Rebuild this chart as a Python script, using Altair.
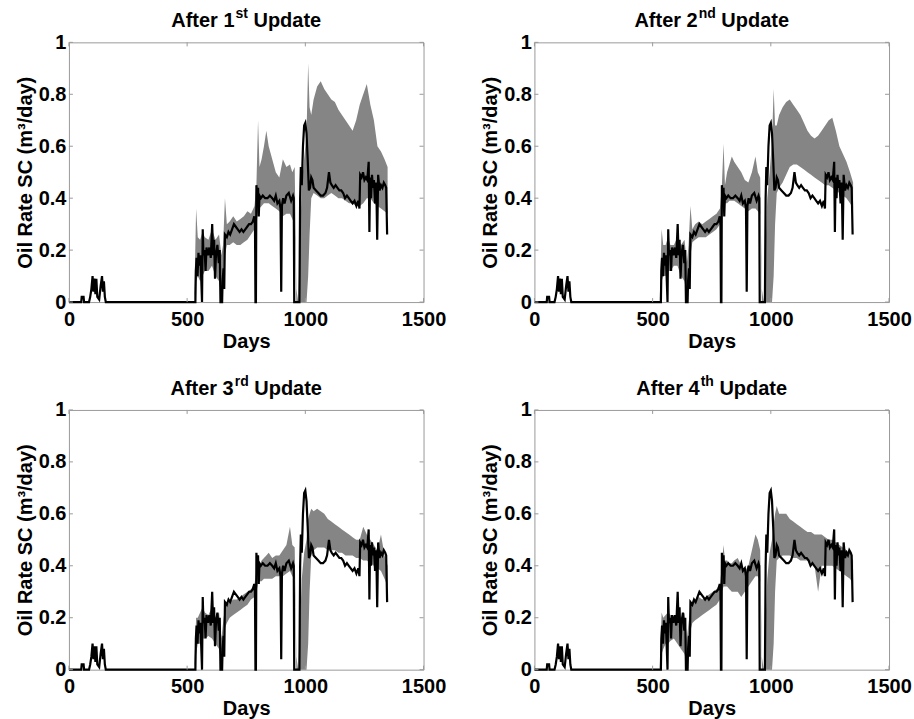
import altair as alt
import pandas as pd

# ---------------- data ----------------
title_main = ["After 1", "After 2", "After 3", "After 4"]
title_sup = ["st", "nd", "rd", "th"]
title_tail = "Update"
x_ticks = [0, 500, 1000, 1500]
y_ticks = [0, 0.2, 0.4, 0.6, 0.8, 1]

# observed oil rate (black line)
obs_days = [0, 52, 54, 62, 64, 85, 90, 95, 100, 104, 108, 112, 116, 120, 128, 134, 140, 144, 148, 152, 156,
            535, 537, 540, 544, 548, 552, 556, 560, 563, 566, 569, 574, 578, 582, 588, 594, 600, 606, 610,
            614, 618, 622, 628, 634, 638, 641, 648, 650, 654, 657, 660, 668, 675, 682, 690, 698, 706, 714,
            722, 730, 738, 746, 754, 762, 770, 778, 784, 787, 789, 791, 793, 797, 800, 803, 806, 812, 820,
            830, 840, 850, 860, 868, 875, 882, 890, 895, 898, 901, 906, 912, 920, 930, 940, 948, 951, 953,
            975, 978, 981, 985, 990, 995, 1000, 1005, 1010, 1015, 1020, 1025, 1030, 1035, 1045, 1055, 1065,
            1075, 1085, 1092, 1100, 1106, 1112, 1120, 1128, 1136, 1144, 1152, 1160, 1168, 1176, 1184, 1192,
            1200, 1208, 1216, 1224, 1229, 1232, 1238, 1244, 1250, 1256, 1262, 1268, 1271, 1274, 1278, 1282,
            1286, 1290, 1295, 1300, 1304, 1308, 1314, 1320, 1326, 1332, 1338, 1342, 1346]
obs_rate = [0, 0, 0.02, 0.02, 0, 0, 0.02, 0.05, 0.10, 0.04, 0.09, 0.03, 0.09, 0.02, 0.01, 0.06, 0.10, 0.04, 0.08, 0.02, 0,
            0, 0.12, 0.17, 0.10, 0.19, 0.14, 0.18, 0.08, 0, 0.28, 0.18, 0.20, 0.12, 0.21, 0.18, 0.21, 0.17, 0.30, 0.18,
            0.24, 0.09, 0.18, 0.22, 0.15, 0.20, 0, 0, 0.08, 0.13, 0.05, 0.26, 0.25, 0.27, 0.26, 0.28, 0.30, 0.29, 0.28,
            0.27, 0.28, 0.27, 0.28, 0.29, 0.30, 0.30, 0.31, 0.33, 0.30, 0, 0, 0.45, 0.40, 0.44, 0.33, 0.41, 0.40, 0.41,
            0.40, 0.40, 0.41, 0.40, 0.39, 0.41, 0.38, 0.39, 0.36, 0.04, 0.37, 0.40, 0.38, 0.41, 0.42, 0.39, 0.41, 0.40, 0,
            0, 0.40, 0.52, 0.45, 0.60, 0.68, 0.69, 0.65, 0.55, 0.43, 0.44, 0.48, 0.47, 0.44, 0.43, 0.42, 0.41,
            0.41, 0.42, 0.44, 0.50, 0.46, 0.45, 0.44, 0.45, 0.44, 0.43, 0.43, 0.42, 0.40, 0.41, 0.40, 0.39,
            0.38, 0.39, 0.37, 0.39, 0.36, 0.49, 0.48, 0.50, 0.47, 0.48, 0.47, 0.54, 0.27, 0.48, 0.40, 0.49,
            0.44, 0.47, 0.38, 0.46, 0.24, 0.49, 0.43, 0.45, 0.44, 0.46, 0.45, 0.44, 0.26]

# ensemble envelope (grey) - shared days, per-update lower / upper bounds
band_days = [530, 538, 545, 555, 565, 575, 590, 605, 620, 635,
             645, 652, 660, 668, 680, 695, 710, 725, 740, 755,
             770, 785, 793, 800, 806, 815, 825, 835, 845, 860,
             875, 890, 905, 920, 935, 945, 955, 962, 970, 985,
             995, 1005, 1012, 1018, 1025, 1035, 1050, 1065, 1080, 1095,
             1110, 1125, 1140, 1155, 1170, 1185, 1200, 1215, 1230, 1245,
             1260, 1275, 1290, 1305, 1320, 1335, 1348]

lo1 = [0, 0.08, 0.10, 0.08, 0.10, 0.12, 0.12, 0.14, 0.10, 0.08,
       0.02, 0.08, 0.18, 0.22, 0.22, 0.23, 0.22, 0.22, 0.23, 0.24,
       0.26, 0.28, 0.30, 0.35, 0.36, 0.37, 0.38, 0.38, 0.38, 0.37,
       0.36, 0.35, 0.33, 0.34, 0.34, 0.32, 0.30, 0, 0, 0,
       0, 0, 0.10, 0.26, 0.40, 0.42, 0.41, 0.40, 0.40, 0.41,
       0.42, 0.41, 0.40, 0.40, 0.39, 0.38, 0.38, 0.37, 0.37, 0.38,
       0.40, 0.40, 0.38, 0.37, 0.36, 0.35, 0.34]
hi1 = [0, 0.36, 0.25, 0.24, 0.27, 0.25, 0.24, 0.28, 0.24, 0.26,
       0.18, 0.22, 0.40, 0.30, 0.31, 0.33, 0.31, 0.32, 0.33, 0.35,
       0.34, 0.37, 0.45, 0.70, 0.52, 0.55, 0.60, 0.66, 0.60, 0.55,
       0.50, 0.48, 0.55, 0.52, 0.53, 0.50, 0.52, 0.05, 0, 0.45,
       0.55, 0.65, 0.92, 0.75, 0.72, 0.78, 0.83, 0.85, 0.82, 0.80,
       0.78, 0.77, 0.74, 0.72, 0.70, 0.68, 0.66, 0.70, 0.76, 0.80,
       0.84, 0.76, 0.70, 0.60, 0.58, 0.55, 0.52]

lo2 = [0, 0.08, 0.10, 0.10, 0.12, 0.12, 0.14, 0.14, 0.10, 0.08,
       0.02, 0.08, 0.18, 0.23, 0.24, 0.25, 0.25, 0.25, 0.26, 0.27,
       0.28, 0.30, 0.32, 0.36, 0.38, 0.38, 0.39, 0.39, 0.39, 0.38,
       0.37, 0.36, 0.35, 0.36, 0.36, 0.35, 0.34, 0, 0, 0,
       0, 0, 0.10, 0.30, 0.42, 0.44, 0.46, 0.49, 0.52, 0.53,
       0.53, 0.52, 0.51, 0.50, 0.49, 0.48, 0.47, 0.46, 0.45, 0.45,
       0.44, 0.43, 0.42, 0.41, 0.40, 0.38, 0.36]
hi2 = [0, 0.28, 0.22, 0.22, 0.25, 0.22, 0.22, 0.25, 0.22, 0.24,
       0.15, 0.22, 0.37, 0.28, 0.30, 0.31, 0.30, 0.31, 0.32, 0.33,
       0.34, 0.36, 0.45, 0.61, 0.45, 0.50, 0.53, 0.56, 0.54, 0.52,
       0.50, 0.47, 0.46, 0.50, 0.56, 0.50, 0.48, 0.05, 0, 0.40,
       0.50, 0.62, 0.82, 0.68, 0.68, 0.72, 0.75, 0.77, 0.78, 0.76,
       0.74, 0.72, 0.69, 0.66, 0.64, 0.63, 0.64, 0.66, 0.68, 0.70,
       0.71, 0.66, 0.60, 0.57, 0.54, 0.50, 0.46]

lo3 = [0, 0.06, 0.10, 0.10, 0.12, 0.12, 0.13, 0.12, 0.10, 0.08,
       0.02, 0.06, 0.16, 0.18, 0.20, 0.21, 0.22, 0.23, 0.24, 0.25,
       0.27, 0.28, 0.30, 0.33, 0.34, 0.34, 0.35, 0.35, 0.35, 0.35,
       0.36, 0.36, 0.36, 0.37, 0.38, 0.36, 0.35, 0, 0, 0,
       0, 0, 0.10, 0.30, 0.44, 0.46, 0.47, 0.47, 0.47, 0.46,
       0.46, 0.46, 0.45, 0.45, 0.44, 0.44, 0.44, 0.43, 0.43, 0.42,
       0.42, 0.41, 0.40, 0.39, 0.38, 0.35, 0.32]
hi3 = [0, 0.20, 0.20, 0.22, 0.24, 0.22, 0.21, 0.24, 0.20, 0.22,
       0.12, 0.18, 0.24, 0.25, 0.26, 0.27, 0.27, 0.28, 0.29, 0.30,
       0.31, 0.33, 0.38, 0.42, 0.40, 0.42, 0.43, 0.44, 0.45, 0.43,
       0.44, 0.44, 0.46, 0.48, 0.55, 0.48, 0.47, 0.05, 0, 0.35,
       0.45, 0.50, 0.58, 0.60, 0.62, 0.61, 0.62, 0.61, 0.60, 0.58,
       0.57, 0.56, 0.55, 0.54, 0.53, 0.52, 0.51, 0.50, 0.50, 0.55,
       0.52, 0.50, 0.48, 0.46, 0.52, 0.44, 0.40]

lo4 = [0, 0.06, 0.08, 0.10, 0.10, 0.11, 0.12, 0.10, 0.08, 0.06,
       0.02, 0.06, 0.15, 0.18, 0.19, 0.20, 0.21, 0.22, 0.23, 0.24,
       0.25, 0.27, 0.30, 0.32, 0.32, 0.32, 0.31, 0.30, 0.30, 0.30,
       0.28, 0.30, 0.32, 0.34, 0.36, 0.36, 0.34, 0, 0, 0,
       0, 0, 0.10, 0.30, 0.42, 0.43, 0.44, 0.44, 0.44, 0.43,
       0.43, 0.42, 0.42, 0.42, 0.41, 0.40, 0.30, 0.40, 0.40, 0.40,
       0.40, 0.39, 0.38, 0.37, 0.36, 0.35, 0.33]
hi4 = [0, 0.22, 0.20, 0.21, 0.22, 0.21, 0.20, 0.22, 0.20, 0.22,
       0.12, 0.18, 0.24, 0.26, 0.27, 0.28, 0.27, 0.28, 0.29, 0.30,
       0.31, 0.33, 0.40, 0.48, 0.42, 0.42, 0.41, 0.41, 0.42, 0.43,
       0.40, 0.38, 0.40, 0.46, 0.52, 0.50, 0.46, 0.05, 0, 0.35,
       0.45, 0.50, 0.56, 0.60, 0.63, 0.60, 0.60, 0.60, 0.58, 0.57,
       0.56, 0.55, 0.54, 0.53, 0.53, 0.52, 0.52, 0.52, 0.51, 0.50,
       0.50, 0.49, 0.48, 0.47, 0.46, 0.45, 0.42]

bands = [(lo1, hi1), (lo2, hi2), (lo3, hi3), (lo4, hi4)]

# ---------------- styling ----------------
W, H = 355, 260
TICK = 4
FONT = "Liberation Sans"
GREY = "#858585"
BOX = "#9a9a9a"
X_TITLE = "Days"
Y_TITLE = "Oil Rate SC (m³/day)"
TITLE_SIZE = 20
SUP_SIZE = 14
TITLE_BASE = -15      # baseline of the panel title, px above the plot
SUP_RAISE = 9

# Arial/Liberation Sans Bold advance widths (per 1000 em) for title layout
ADV = {"A": 722, "f": 333, "t": 333, "e": 556, "r": 389, " ": 278, "U": 722, "p": 611,
       "d": 611, "a": 556, "s": 556, "n": 611, "h": 611, "1": 556, "2": 556, "3": 556, "4": 556}


def text_w(s, size):
    return sum(ADV.get(c, 556) for c in s) * size / 1000.0


obs_df = pd.DataFrame({"day": obs_days, "rate": obs_rate})
xt_df = pd.DataFrame({"day": x_ticks})
yt_df = pd.DataFrame({"rate": y_ticks})

xs = alt.Scale(domain=[0, 1500], nice=False, zero=False)
ys = alt.Scale(domain=[0, 1], nice=False)


def title_layers(main, sup):
    w_main = text_w(main, TITLE_SIZE)
    w_sup = text_w(sup, SUP_SIZE)
    w_space = text_w(" ", TITLE_SIZE)
    w_tail = text_w(title_tail, TITLE_SIZE)
    x0 = W / 2 - (w_main + 1 + w_sup + w_space + w_tail) / 2
    tdf = pd.DataFrame({"main": [main], "sup": [sup], "tail": [title_tail]})
    base = alt.Chart(tdf)
    t1 = base.mark_text(font=FONT, fontSize=TITLE_SIZE, fontWeight="bold", align="left",
                        baseline="alphabetic", color="black").encode(
        text="main:N", x=alt.value(x0), y=alt.value(TITLE_BASE))
    t2 = base.mark_text(font=FONT, fontSize=SUP_SIZE, fontWeight="bold", align="left",
                        baseline="alphabetic", color="black").encode(
        text="sup:N", x=alt.value(x0 + w_main + 1), y=alt.value(TITLE_BASE - SUP_RAISE))
    t3 = base.mark_text(font=FONT, fontSize=TITLE_SIZE, fontWeight="bold", align="left",
                        baseline="alphabetic", color="black").encode(
        text="tail:N", x=alt.value(x0 + w_main + 1 + w_sup + w_space), y=alt.value(TITLE_BASE))
    return [t1, t2, t3]


def panel(main, sup, lo, hi):
    band_df = pd.DataFrame({"day": band_days, "rate": lo, "hi": hi})
    x_enc = alt.X("day:Q", scale=xs, title=X_TITLE,
                  axis=alt.Axis(values=x_ticks, format="d", labelFlush=False))
    y_enc = alt.Y("rate:Q", scale=ys, title=Y_TITLE,
                  axis=alt.Axis(values=y_ticks, format=".1~f"))
    band = alt.Chart(band_df).mark_area(color=GREY, opacity=1).encode(
        x=x_enc, y=y_enc, y2="hi:Q")
    line = alt.Chart(obs_df).mark_line(color="black", strokeWidth=2.2).encode(
        x=alt.X("day:Q", scale=xs, title=X_TITLE),
        y=alt.Y("rate:Q", scale=ys, title=Y_TITLE))
    tb = alt.Chart(xt_df).mark_rule(color=BOX).encode(
        x=alt.X("day:Q", scale=xs, title=X_TITLE), y=alt.value(H), y2=alt.value(H - TICK))
    tt = alt.Chart(xt_df).mark_rule(color=BOX).encode(
        x=alt.X("day:Q", scale=xs, title=X_TITLE), y=alt.value(0), y2=alt.value(TICK))
    tl = alt.Chart(yt_df).mark_rule(color=BOX).encode(
        y=alt.Y("rate:Q", scale=ys, title=Y_TITLE), x=alt.value(0), x2=alt.value(TICK))
    tr = alt.Chart(yt_df).mark_rule(color=BOX).encode(
        y=alt.Y("rate:Q", scale=ys, title=Y_TITLE), x=alt.value(W - TICK), x2=alt.value(W))
    return alt.layer(band, line, tb, tt, tl, tr, *title_layers(main, sup)).properties(
        width=W, height=H)


panels = [panel(m, s, lo, hi) for m, s, (lo, hi) in zip(title_main, title_sup, bands)]

chart = alt.vconcat(
    alt.hconcat(panels[0], panels[1], spacing=33),
    alt.hconcat(panels[2], panels[3], spacing=33),
    spacing=22,
).properties(
    padding={"left": 14, "top": 6, "right": 2, "bottom": 2},
    background="white",
).configure_axis(
    labelFont=FONT, labelFontSize=20, labelFontWeight="bold", labelColor="black",
    titleFont=FONT, titleFontSize=20, titleFontWeight="bold", titleColor="black",
    domain=False, ticks=False, grid=False,
).configure_axisX(
    labelPadding=7, titlePadding=2,
).configure_axisY(
    labelPadding=3, titlePadding=3,
).configure_view(
    stroke=BOX, strokeWidth=1,
)

chart.save("out.html", embed_options={"renderer": "svg", "actions": False})
